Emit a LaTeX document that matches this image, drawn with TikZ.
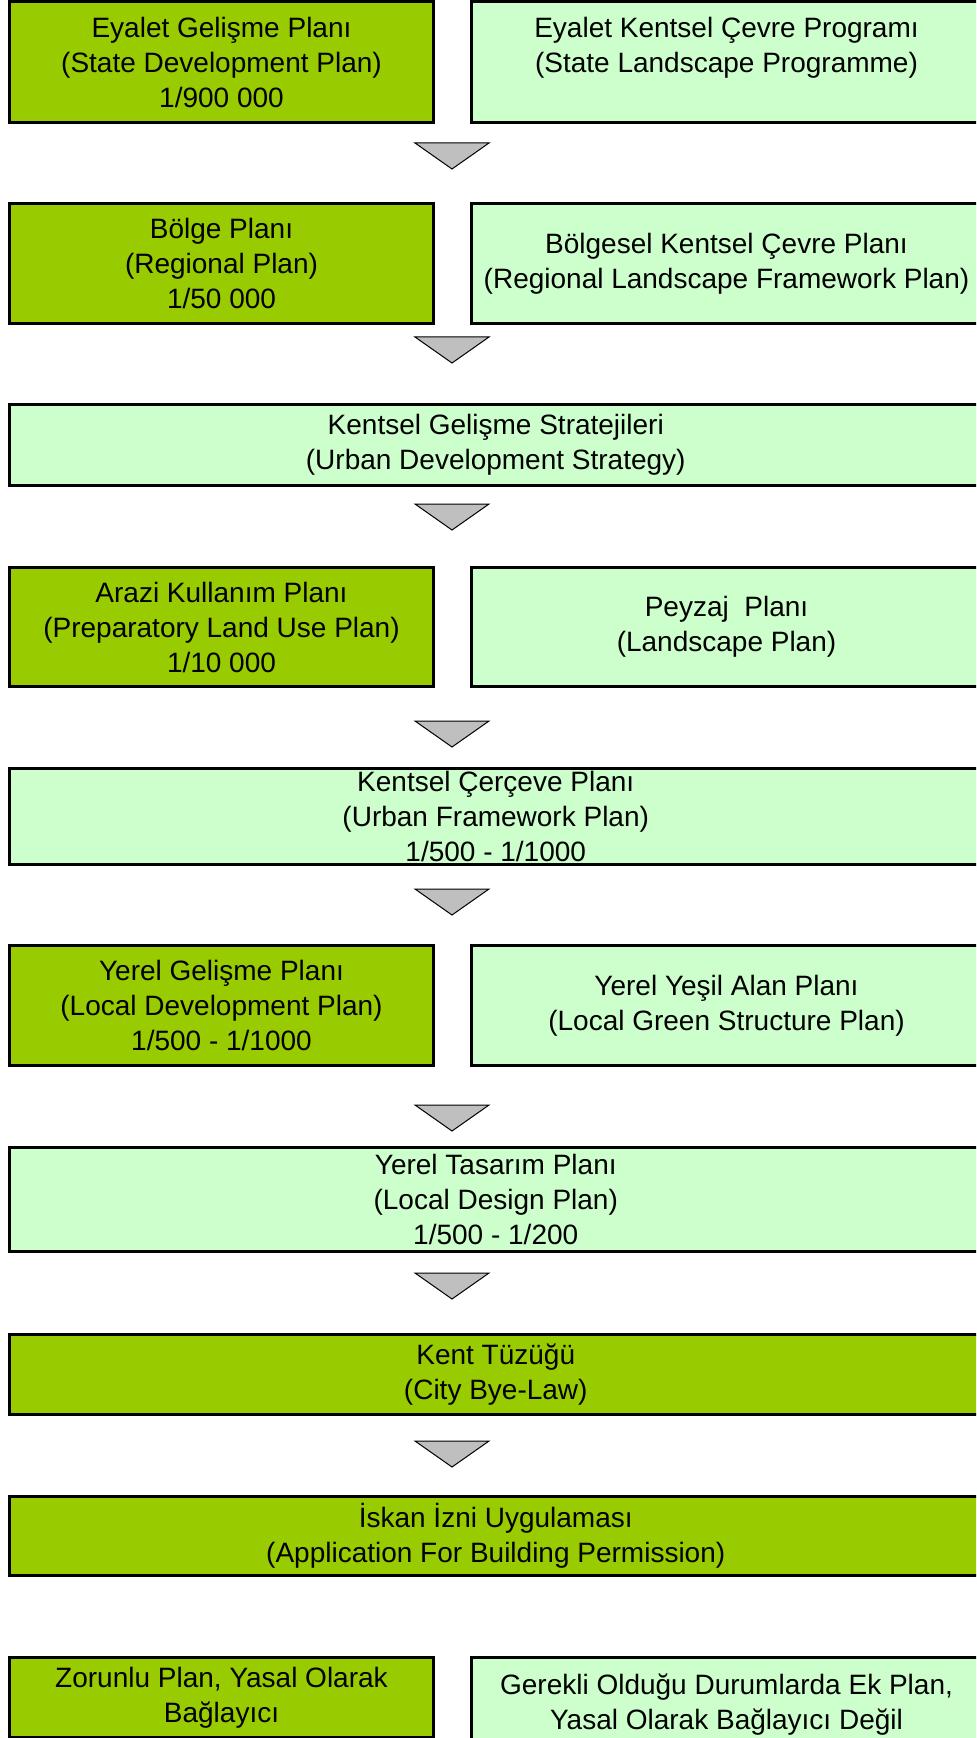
\documentclass[tikz,border=0pt]{standalone}
\usepackage{fontspec}
\setmainfont{Liberation Sans}
\definecolor{koyuyesil}{RGB}{153,204,0}
\definecolor{acikyesil}{RGB}{204,255,204}
\begin{document}
\begin{tikzpicture}[x=0.5pt, y=-0.5pt,
    kutu/.style={draw, line width=1.5pt, align=center, inner sep=0pt,
        font=\fontsize{14pt}{17.5pt}\selectfont},
    zorunlu/.style={kutu, fill=koyuyesil},
    ek/.style={kutu, fill=acikyesil},
    sol/.style={minimum width=212pt},
    sag/.style={minimum width=255.5pt},
    tam/.style={minimum width=486.25pt},
    ok/.style={draw=black, fill=gray!50, line width=0.5pt}]
    \useasboundingbox (0,0) rectangle (976,1738);
    \clip (0,0) rectangle (976,1738);

    \node[zorunlu, sol, minimum height=60.5pt] (eyalet) at (221.5,62)
        {Eyalet Gelişme Planı\\(State Development Plan)\\1/900 000};
    \node[ek, sag, minimum height=60.5pt] (eyaletcevre) at (726.5,62)
        {Eyalet Kentsel Çevre Programı\\(State Landscape Programme)\\~};

    \node[zorunlu, sol, minimum height=60pt] (bolge) at (221.5,263.5)
        {Bölge Planı\\(Regional Plan)\\1/50 000};
    \node[ek, sag, minimum height=60pt] (bolgecevre) at (726.5,263.5)
        {Bölgesel Kentsel Çevre Planı\\(Regional Landscape Framework Plan)};

    \node[ek, tam, minimum height=40.5pt] (strateji) at (495.75,445)
        {Kentsel Gelişme Stratejileri\\(Urban Development Strategy)};

    \node[zorunlu, sol, minimum height=59.5pt] (arazi) at (221.5,627)
        {Arazi Kullanım Planı\\(Preparatory Land Use Plan)\\1/10 000};
    \node[ek, sag, minimum height=59.5pt] (peyzaj) at (726.5,627)
        {Peyzaj~ Planı\\(Landscape Plan)};

    \node[ek, tam, minimum height=48pt] (cerceve) at (495.75,816.5)
        {Kentsel Çerçeve Planı\\(Urban Framework Plan)\\1/500 - 1/1000};

    \node[zorunlu, sol, minimum height=60pt] (yerel) at (221.5,1005.5)
        {Yerel Gelişme Planı\\(Local Development Plan)\\1/500 - 1/1000};
    \node[ek, sag, minimum height=60pt] (yesilalan) at (726.5,1005.5)
        {Yerel Yeşil Alan Planı\\(Local Green Structure Plan)};

    \node[ek, tam, minimum height=52pt] (tasarim) at (495.75,1199.5)
        {Yerel Tasarım Planı\\(Local Design Plan)\\1/500 - 1/200};

    \node[zorunlu, tam, minimum height=40pt] (tuzuk) at (495.75,1374.5)
        {Kent Tüzüğü\\(City Bye-Law)};

    \node[zorunlu, tam, minimum height=39.5pt] (iskan) at (495.75,1536)
        {İskan İzni Uygulaması\\(Application For Building Permission)};

    \node[zorunlu, sol, minimum height=40pt] (zorunluplan) at (221.5,1697.5)
        {Zorunlu Plan, Yasal Olarak\\Bağlayıcı};
    \node[ek, sag, minimum height=47pt] (ekplan) at (726.5,1704.5)
        {Gerekli Olduğu Durumlarda Ek Plan,\\Yasal Olarak Bağlayıcı Değil};

    \foreach \y in {143, 337, 504, 721, 889, 1105, 1273, 1441}
        \draw[ok] (415,\y) -- (489,\y) -- (452,{\y+26}) -- cycle;
\end{tikzpicture}
\end{document}
